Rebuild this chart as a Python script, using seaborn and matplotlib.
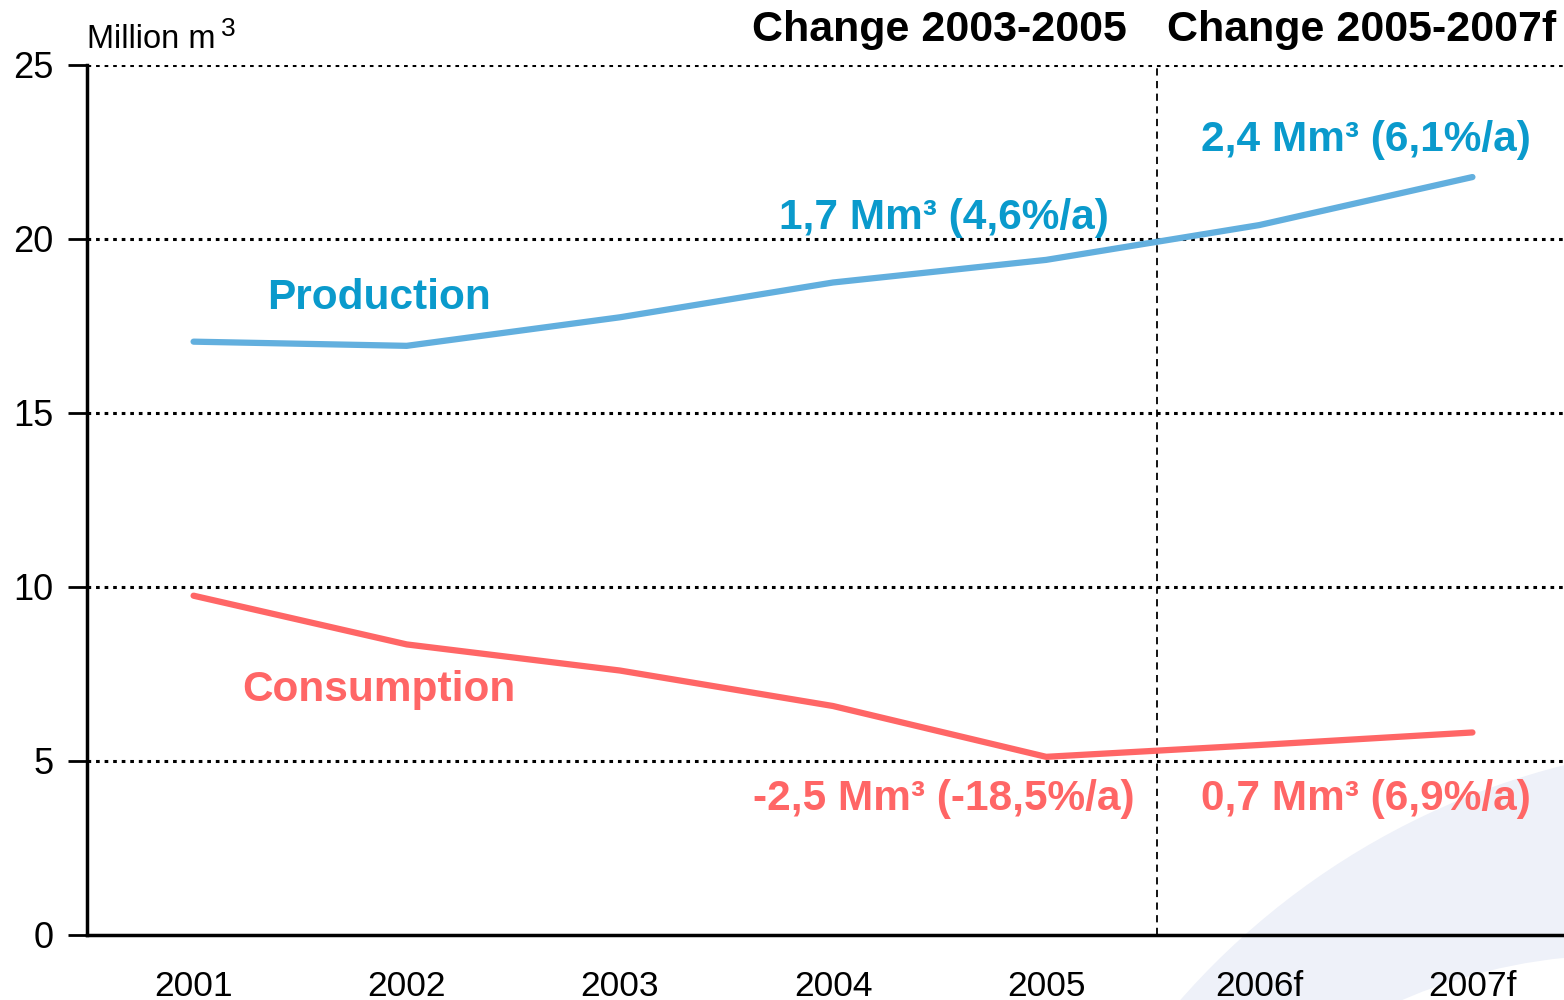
import numpy as np
import pandas as pd
import seaborn as sns
import matplotlib.pyplot as plt
from matplotlib.patches import Circle

# values (million m3)
years = ["2001", "2002", "2003", "2004", "2005", "2006f", "2007f"]
production = [17.05, 16.93, 17.75, 18.75, 19.40, 20.40, 21.78]
consumption = [9.75, 8.35, 7.60, 6.58, 5.12, 5.46, 5.82]

y_ticks = [0, 5, 10, 15, 20, 25]
headers = ["Change 2003-2005", "Change 2005-2007f"]
prod_notes = ["1,7 Mm³ (4,6%/a)", "2,4 Mm³ (6,1%/a)"]
cons_notes = ["-2,5 Mm³ (-18,5%/a)", "0,7 Mm³ (6,9%/a)"]

blue_line = "#62AFDE"
blue_text = "#0A9ACC"
red = "#FF6666"

df = pd.DataFrame({"year": years, "Production": production, "Consumption": consumption})
long = df.melt(id_vars="year", var_name="series", value_name="value")

sns.set_style("white")
plt.rcParams["font.family"] = ["Liberation Sans", "DejaVu Sans"]
plt.rcParams["text.color"] = "black"
plt.rcParams["xtick.color"] = "black"
plt.rcParams["ytick.color"] = "black"

fig = plt.figure(figsize=(15.64, 10), dpi=100)

# pale decorative swoosh in the lower right corner
fig.patches.append(Circle((17.5, -5.0), 7.58, transform=fig.dpi_scale_trans,
                          facecolor="#EEF1F9", edgecolor="none", zorder=-2))
fig.patches.append(Circle((16.2, -5.05), 5.5, transform=fig.dpi_scale_trans,
                          facecolor="white", edgecolor="none", zorder=-1))

ax = fig.add_axes([87 / 1564, 0.065, (1579 - 87) / 1564, 0.87])
ax.set_facecolor("none")
ax.set_zorder(1)

sns.lineplot(data=long, x="year", y="value", hue="series",
             palette={"Production": blue_line, "Consumption": red},
             linewidth=4.5, legend=False, ax=ax, zorder=3)
for ln in ax.lines:
    ln.set_solid_capstyle("round")

ax.set_xlim(-0.5, len(years) - 0.5)
ax.set_ylim(0, 25)
ax.set_xlabel("")
ax.set_ylabel("")

# horizontal dotted grid
for v in y_ticks[1:]:
    ax.axhline(v, color="black", linestyle=(0, (1.2, 1.6)), linewidth=2.2, zorder=1)
# vertical split between actuals and forecast
ax.axvline(4.52, color="black", linestyle=(0, (4, 3)), linewidth=1.3, zorder=1)

ax.set_yticks(y_ticks)
ax.set_yticklabels([str(v) for v in y_ticks])
ax.set_xticks(range(len(years)))
ax.set_xticklabels(years)
ax.set_xticks(np.arange(-0.5, len(years), 1.0), minor=True)
ax.tick_params(axis="x", which="major", length=0, pad=25, labelsize=25.5)
ax.tick_params(axis="x", which="minor", length=11, width=2, color="black", direction="out")
ax.tick_params(axis="y", length=14, width=2, color="black", direction="out",
               pad=10, labelsize=26, left=True)

for side in ["top", "right"]:
    ax.spines[side].set_visible(False)
for side in ["left", "bottom"]:
    ax.spines[side].set_color("black")
    ax.spines[side].set_linewidth(2.5)

# series labels and change annotations
fs = 30.5
ax.text(0.87, 18.3, "Production", color=blue_text, fontsize=fs, fontweight="bold",
        ha="center", va="center")
ax.text(0.87, 7.05, "Consumption", color=red, fontsize=fs, fontweight="bold",
        ha="center", va="center")
ax.text(3.52, 20.6, prod_notes[0], color=blue_text, fontsize=fs, fontweight="bold",
        ha="center", va="center")
ax.text(5.50, 22.85, prod_notes[1], color=blue_text, fontsize=fs, fontweight="bold",
        ha="center", va="center")
ax.text(3.52, 3.9, cons_notes[0], color=red, fontsize=fs, fontweight="bold",
        ha="center", va="center")
ax.text(5.50, 3.9, cons_notes[1], color=red, fontsize=fs, fontweight="bold",
        ha="center", va="center")

# headers above the plot
fig.text(939 / 1564, 1 - 30 / 1000, headers[0], fontsize=31,
         fontweight="bold", ha="center", va="center")
fig.text(1362 / 1564, 1 - 30 / 1000, headers[1], fontsize=31,
         fontweight="bold", ha="center", va="center")

fig.text(87 / 1564, 1 - 48 / 1000, "Million m", fontsize=23.5, ha="left", va="baseline")
fig.text(221 / 1564, 1 - 36 / 1000, "3", fontsize=19, ha="left", va="baseline")

fig.savefig("out.png", dpi=100)
